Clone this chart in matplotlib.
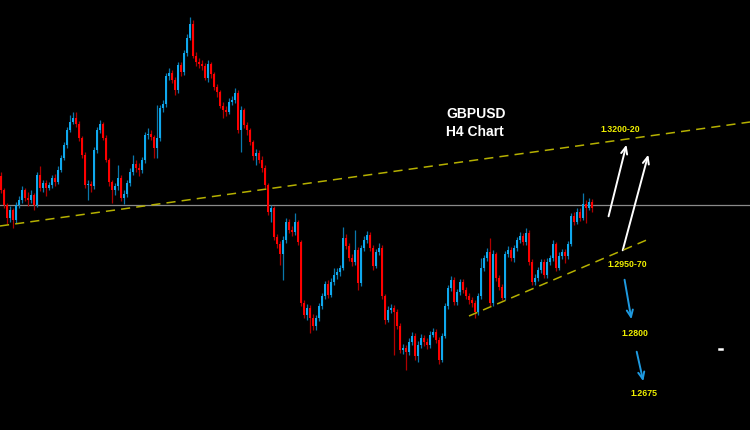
import numpy as np
import matplotlib
matplotlib.use('Agg')
import matplotlib.pyplot as plt

# GBPUSD H4 candles
first_open = 1.3148
closes = [
    1.3120, 1.3090, 1.3064, 1.3080, 1.3060, 1.3090, 1.3100, 1.3120, 1.3104, 1.3100,
    1.3110, 1.3090, 1.3150, 1.3124, 1.3134, 1.3124, 1.3130, 1.3144, 1.3136, 1.3160,
    1.3184, 1.3210, 1.3240, 1.3256, 1.3264, 1.3252, 1.3224, 1.3190, 1.3130, 1.3132,
    1.3128, 1.3200, 1.3240, 1.3252, 1.3224, 1.3180, 1.3136, 1.3120, 1.3128, 1.3144,
    1.3104, 1.3112, 1.3134, 1.3156, 1.3172, 1.3164, 1.3160, 1.3180, 1.3230, 1.3232,
    1.3226, 1.3204, 1.3224, 1.3284, 1.3292, 1.3348, 1.3354, 1.3340, 1.3320, 1.3370,
    1.3356, 1.3394, 1.3424, 1.3452, 1.3388, 1.3376, 1.3372, 1.3368, 1.3344, 1.3372,
    1.3352, 1.3326, 1.3316, 1.3288, 1.3280, 1.3276, 1.3296, 1.3300, 1.3314, 1.3240,
    1.3280, 1.3250, 1.3240, 1.3216, 1.3188, 1.3194, 1.3180, 1.3164, 1.3130, 1.3076,
    1.3084, 1.3026, 1.3012, 1.2992, 1.3020, 1.3056, 1.3040, 1.3036, 1.3056, 1.3016,
    1.2894, 1.2870, 1.2884, 1.2864, 1.2848, 1.2864, 1.2888, 1.2908, 1.2932, 1.2910,
    1.2936, 1.2950, 1.2956, 1.2964, 1.3024, 1.3008, 1.2984, 1.2976, 1.3000, 1.2934,
    1.3004, 1.3020, 1.3030, 1.3004, 1.2968, 1.2996, 1.3004, 1.2908, 1.2860, 1.2880,
    1.2884, 1.2876, 1.2848, 1.2800, 1.2804, 1.2796, 1.2816, 1.2828, 1.2788, 1.2810,
    1.2824, 1.2816, 1.2810, 1.2830, 1.2836, 1.2820, 1.2780, 1.2828, 1.2888, 1.2924,
    1.2940, 1.2896, 1.2916, 1.2936, 1.2920, 1.2908, 1.2900, 1.2894, 1.2876, 1.2908,
    1.2964, 1.2984, 1.2996, 1.2894, 1.2992, 1.2944, 1.2926, 1.2904, 1.2992, 1.3000,
    1.2984, 1.3004, 1.3020, 1.3028, 1.3016, 1.3034, 1.2976, 1.2936, 1.2944, 1.2960,
    1.2976, 1.2950, 1.2976, 1.2984, 1.3012, 1.2964, 1.2988, 1.2996, 1.2988, 1.3012,
    1.3068, 1.3056, 1.3076, 1.3064, 1.3092, 1.3084, 1.3096, 1.3084,
]
highs = [
    1.3156, 1.3124, 1.3094, 1.3088, 1.3084, 1.3096, 1.3108, 1.3128, 1.3124, 1.3116,
    1.3120, 1.3114, 1.3156, 1.3168, 1.3140, 1.3140, 1.3136, 1.3150, 1.3152, 1.3168,
    1.3190, 1.3216, 1.3246, 1.3270, 1.3276, 1.3276, 1.3258, 1.3228, 1.3196, 1.3140,
    1.3138, 1.3206, 1.3246, 1.3260, 1.3256, 1.3230, 1.3184, 1.3140, 1.3134, 1.3170,
    1.3150, 1.3120, 1.3140, 1.3164, 1.3190, 1.3180, 1.3174, 1.3186, 1.3236, 1.3244,
    1.3240, 1.3230, 1.3290, 1.3290, 1.3300, 1.3354, 1.3364, 1.3360, 1.3346, 1.3376,
    1.3376, 1.3400, 1.3432, 1.3466, 1.3460, 1.3396, 1.3384, 1.3380, 1.3374, 1.3380,
    1.3376, 1.3356, 1.3332, 1.3320, 1.3296, 1.3288, 1.3304, 1.3308, 1.3324, 1.3320,
    1.3288, 1.3284, 1.3256, 1.3244, 1.3220, 1.3202, 1.3200, 1.3188, 1.3170, 1.3134,
    1.3090, 1.3088, 1.3032, 1.3018, 1.3028, 1.3064, 1.3062, 1.3048, 1.3074, 1.3060,
    1.3020, 1.2900, 1.2892, 1.2890, 1.2872, 1.2870, 1.2894, 1.2914, 1.2938, 1.2940,
    1.2944, 1.2964, 1.2964, 1.2970, 1.3046, 1.3032, 1.3014, 1.2992, 1.3040, 1.3006,
    1.3010, 1.3028, 1.3038, 1.3036, 1.3010, 1.3002, 1.3014, 1.3010, 1.2912, 1.2888,
    1.2892, 1.2890, 1.2882, 1.2854, 1.2812, 1.2810, 1.2824, 1.2836, 1.2834, 1.2818,
    1.2832, 1.2830, 1.2824, 1.2838, 1.2844, 1.2842, 1.2826, 1.2834, 1.2894, 1.2930,
    1.2948, 1.2946, 1.2922, 1.2942, 1.2942, 1.2926, 1.2914, 1.2906, 1.2900, 1.2914,
    1.2984, 1.2990, 1.3004, 1.3024, 1.3000, 1.2996, 1.2950, 1.2932, 1.2998, 1.3008,
    1.3006, 1.3010, 1.3026, 1.3036, 1.3034, 1.3044, 1.3040, 1.2982, 1.2952, 1.2966,
    1.2982, 1.2982, 1.2984, 1.2990, 1.3020, 1.3016, 1.2996, 1.3002, 1.3002, 1.3018,
    1.3074, 1.3076, 1.3084, 1.3084, 1.3114, 1.3100, 1.3104, 1.3102,
]
lows = [
    1.3114, 1.3084, 1.3052, 1.3056, 1.3044, 1.3054, 1.3084, 1.3094, 1.3098, 1.3088,
    1.3094, 1.3080, 1.3086, 1.3118, 1.3116, 1.3108, 1.3120, 1.3124, 1.3128, 1.3132,
    1.3156, 1.3180, 1.3204, 1.3236, 1.3252, 1.3246, 1.3218, 1.3184, 1.3124, 1.3100,
    1.3116, 1.3122, 1.3194, 1.3234, 1.3220, 1.3176, 1.3128, 1.3094, 1.3110, 1.3120,
    1.3098, 1.3092, 1.3106, 1.3128, 1.3150, 1.3156, 1.3148, 1.3154, 1.3174, 1.3222,
    1.3220, 1.3184, 1.3184, 1.3218, 1.3276, 1.3286, 1.3340, 1.3334, 1.3310, 1.3314,
    1.3348, 1.3350, 1.3388, 1.3420, 1.3384, 1.3368, 1.3364, 1.3360, 1.3340, 1.3336,
    1.3344, 1.3320, 1.3306, 1.3284, 1.3264, 1.3268, 1.3272, 1.3290, 1.3294, 1.3234,
    1.3196, 1.3244, 1.3230, 1.3210, 1.3180, 1.3170, 1.3174, 1.3156, 1.3124, 1.3070,
    1.3056, 1.3020, 1.3004, 1.2970, 1.2940, 1.3014, 1.3034, 1.3028, 1.3030, 1.3010,
    1.2888, 1.2864, 1.2860, 1.2834, 1.2840, 1.2840, 1.2858, 1.2882, 1.2902, 1.2904,
    1.2906, 1.2930, 1.2942, 1.2948, 1.2960, 1.3002, 1.2978, 1.2968, 1.2970, 1.2920,
    1.2928, 1.2998, 1.3014, 1.2998, 1.2960, 1.2964, 1.2990, 1.2902, 1.2852, 1.2856,
    1.2874, 1.2790, 1.2842, 1.2794, 1.2792, 1.2760, 1.2790, 1.2810, 1.2780, 1.2776,
    1.2804, 1.2808, 1.2802, 1.2804, 1.2826, 1.2814, 1.2772, 1.2776, 1.2824, 1.2882,
    1.2918, 1.2890, 1.2890, 1.2910, 1.2914, 1.2902, 1.2892, 1.2886, 1.2864, 1.2870,
    1.2902, 1.2958, 1.2978, 1.2888, 1.2888, 1.2938, 1.2920, 1.2900, 1.2900, 1.2986,
    1.2978, 1.2976, 1.2998, 1.3014, 1.3010, 1.3010, 1.2970, 1.2930, 1.2930, 1.2938,
    1.2954, 1.2944, 1.2944, 1.2970, 1.2978, 1.2958, 1.2960, 1.2982, 1.2974, 1.2982,
    1.3008, 1.3050, 1.3052, 1.3058, 1.3060, 1.3054, 1.3080, 1.3076,
]

# analysis drawings: current price, trend lines (bar index, price)
current_price = 1.3090
upper_trend = ([-0.33, 249.67], [1.3048, 1.3256])
lower_trend = ([156.0, 216.0], [1.2868, 1.3022])

# arrows: (tail, head)
white_arrows = [((202.3, 1.3062), (208.7, 1.3216)),
                ((207.0, 1.2994), (216.0, 1.3196))]
blue_arrows = [((207.7, 1.2946), (210.3, 1.2856)),
               ((211.7, 1.2802), (214.3, 1.2732))]

# level labels: (text, bar index, price)
level_labels = [('1.3200-20', 206.3, 1.3242),
                ('1.2950-70', 208.7, 1.2972),
                ('1.2800', 211.3, 1.2834),
                ('1.2675', 214.3, 1.2714)]

BLUE = '#0fa8ee'
RED = '#ff0000'
BLUE_WICK = '#0a78ad'
RED_WICK = '#b00000'

closes = np.array(closes)
opens = np.concatenate([[first_open], closes[:-1]])
highs = np.maximum(np.array(highs), np.maximum(opens, closes))
lows = np.minimum(np.array(lows), np.minimum(opens, closes))
x = np.arange(len(closes))
up = closes >= opens
colors = np.where(up, BLUE, RED)
wick_colors = np.where(up, BLUE_WICK, RED_WICK)

fig = plt.figure(figsize=(7.5, 4.3), dpi=100, facecolor='black')
ax = fig.add_axes([0, 0, 1, 1])
ax.set_facecolor('black')

ax.axhline(current_price, color='#8a8a8a', lw=0.9, zorder=1)

ax.vlines(x, lows, highs, colors=wick_colors, lw=0.9, zorder=2)
body = np.maximum(np.abs(closes - opens), 0.00006)
ax.bar(x, body, bottom=np.minimum(opens, closes), width=0.85,
       color=colors, linewidth=0, zorder=3)

ax.plot(*upper_trend, color='#b5b000', lw=1.1, ls=(0, (6, 4)), zorder=4)
ax.plot(*lower_trend, color='#b5b000', lw=1.1, ls=(0, (6, 4)), zorder=4)

for (tail, head) in white_arrows:
    ax.annotate('', xy=head, xytext=tail,
                arrowprops=dict(arrowstyle='->,head_length=0.5,head_width=0.22',
                                color='white', lw=1.4))
for (tail, head) in blue_arrows:
    ax.annotate('', xy=head, xytext=tail,
                arrowprops=dict(arrowstyle='->,head_length=0.5,head_width=0.22',
                                color='#1e9ae0', lw=1.4))

for txt, xi, p in level_labels:
    ax.text(xi, p, txt, color='#f0f000', fontsize=6.3, fontweight='bold',
            family='Liberation Sans', ha='center', va='center')

ax.text(148.3, 1.3272, 'GBPUSD', color='white', fontsize=10, fontweight='bold',
        family='Liberation Sans', ha='left', va='center')
ax.text(148.3, 1.3236, 'H4 Chart', color='white', fontsize=10, fontweight='bold',
        family='Liberation Sans', ha='left', va='center')

# small white tick mark at the lower right
ax.plot([239.4, 240.2], [1.2802, 1.2802], color='white', lw=1.8)

ax.set_xlim(-0.33, 249.67)
ax.set_ylim(1.2640, 1.3500)
ax.axis('off')

fig.savefig('out.png', dpi=100, facecolor='black')
